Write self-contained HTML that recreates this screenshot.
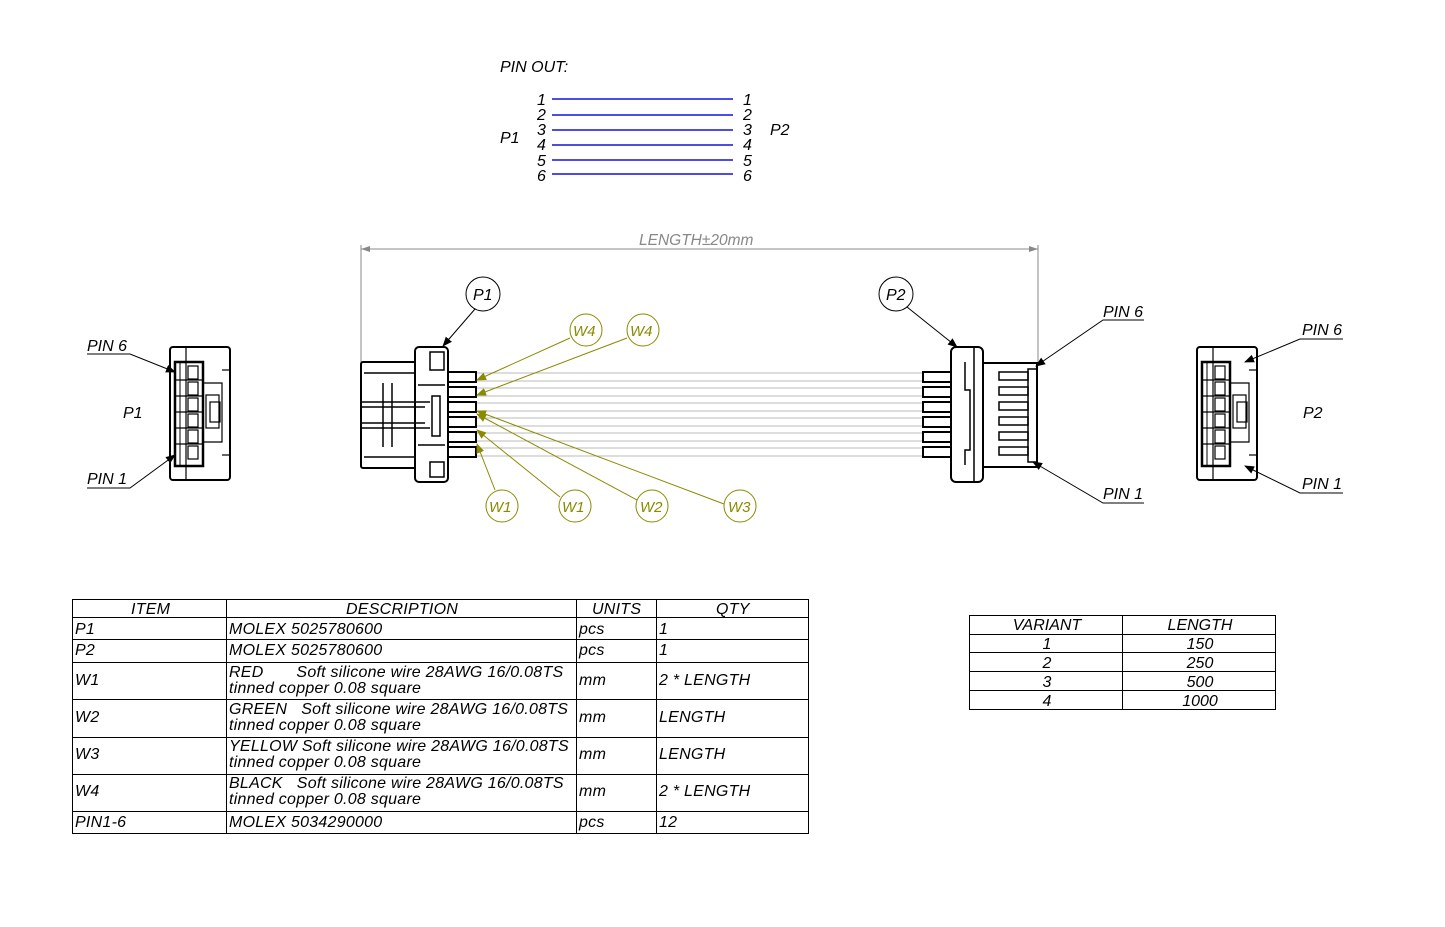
<!DOCTYPE html>
<html><head><meta charset="utf-8"><style>
html,body{margin:0;padding:0;background:#fff;}
svg{display:block;}
text{font-family:"Liberation Sans",sans-serif;font-style:italic;fill:#000;}
.t text{letter-spacing:0.25px;}
</style></head><body>
<svg width="1445" height="927" viewBox="0 0 1445 927" xmlns="http://www.w3.org/2000/svg">
<defs>
<marker id="ab" markerWidth="10" markerHeight="8" refX="9" refY="4" orient="auto" markerUnits="userSpaceOnUse"><path d="M0,0 L10,4 L0,8 z" fill="#000"/></marker>
<marker id="ay" markerWidth="10" markerHeight="8" refX="9" refY="4" orient="auto" markerUnits="userSpaceOnUse"><path d="M0,0 L10,4 L0,8 z" fill="#8a8a00"/></marker>
<marker id="ag" markerWidth="9" markerHeight="6" refX="9" refY="3" orient="auto-start-reverse" markerUnits="userSpaceOnUse"><path d="M9,3 L0,0 L0,6 z" fill="#888"/></marker>
</defs>

<!-- PIN OUT -->
<text x="500" y="72" font-size="16">PIN OUT:</text>
<text x="500" y="143" font-size="16">P1</text>
<text x="770" y="135" font-size="16">P2</text>
<g stroke="#1010e0" stroke-width="1.4">
<line x1="552" y1="99" x2="733" y2="99"/><line x1="552" y1="115" x2="733" y2="115"/>
<line x1="552" y1="130" x2="733" y2="130"/><line x1="552" y1="145" x2="733" y2="145"/>
<line x1="552" y1="160" x2="733" y2="160"/><line x1="552" y1="174" x2="733" y2="174"/>
</g>
<g font-size="16">
<text x="537" y="105">1</text><text x="537" y="120">2</text><text x="537" y="135">3</text><text x="537" y="150">4</text><text x="537" y="166">5</text><text x="537" y="181">6</text>
<text x="743" y="105">1</text><text x="743" y="120">2</text><text x="743" y="135">3</text><text x="743" y="150">4</text><text x="743" y="166">5</text><text x="743" y="181">6</text>
</g>

<!-- Dimension -->
<line x1="361" y1="245" x2="361" y2="362" stroke="#888" stroke-width="1"/>
<line x1="1038" y1="245" x2="1038" y2="362" stroke="#888" stroke-width="1"/>
<line x1="361" y1="249" x2="1038" y2="249" stroke="#888" stroke-width="1" marker-start="url(#ag)" marker-end="url(#ag)"/>
<text x="639" y="245" font-size="15.5" style="fill:#888">LENGTH±20mm</text>

<!-- wires gray -->
<g stroke="#bbb" stroke-width="1">
<line x1="476" y1="373" x2="922" y2="373"/><line x1="476" y1="381" x2="922" y2="381"/>
<line x1="476" y1="388" x2="922" y2="388"/><line x1="476" y1="396" x2="922" y2="396"/>
<line x1="476" y1="403" x2="922" y2="403"/><line x1="476" y1="411" x2="922" y2="411"/>
<line x1="476" y1="418" x2="922" y2="418"/><line x1="476" y1="426" x2="922" y2="426"/>
<line x1="476" y1="433" x2="922" y2="433"/><line x1="476" y1="441" x2="922" y2="441"/>
<line x1="476" y1="448" x2="922" y2="448"/><line x1="476" y1="456" x2="922" y2="456"/>
</g>

<!-- Left connector side view -->
<g fill="#fff" stroke="#000" stroke-width="2">
<rect x="361" y="362" width="56" height="106" rx="2"/>
<rect x="415" y="347" width="33" height="135" rx="4"/>
<rect x="448" y="372" width="28" height="10"/><rect x="448" y="387" width="28" height="10"/>
<rect x="448" y="402" width="28" height="10"/><rect x="448" y="417" width="28" height="10"/>
<rect x="448" y="432" width="28" height="10"/><rect x="448" y="447" width="28" height="10"/>
</g>
<g fill="none" stroke="#000" stroke-width="1.5">
<line x1="364" y1="373" x2="415" y2="373"/><line x1="364" y1="457" x2="415" y2="457"/>
<line x1="362" y1="402" x2="430" y2="402"/><line x1="362" y1="428" x2="430" y2="428"/>
<line x1="362" y1="407" x2="425" y2="407"/><line x1="362" y1="423" x2="425" y2="423"/>
<line x1="383" y1="383" x2="383" y2="447"/><line x1="392" y1="383" x2="392" y2="447"/>
<rect x="432" y="396" width="8" height="40"/>
<line x1="418" y1="385" x2="445" y2="385"/><line x1="418" y1="445" x2="445" y2="445"/>
<rect x="430" y="352" width="14" height="18"/><rect x="430" y="462" width="14" height="15"/>
</g>

<!-- Right connector side view -->
<g fill="#fff" stroke="#000" stroke-width="2">
<rect x="923" y="372" width="28" height="10"/><rect x="923" y="387" width="28" height="10"/>
<rect x="923" y="402" width="28" height="10"/><rect x="923" y="417" width="28" height="10"/>
<rect x="923" y="432" width="28" height="10"/><rect x="923" y="447" width="28" height="10"/>
<rect x="982" y="363" width="55" height="104"/>
<rect x="951" y="347" width="32" height="135" rx="5"/>
</g>
<g fill="none" stroke="#000" stroke-width="1.5">
<line x1="974" y1="348" x2="974" y2="481"/>
<polyline points="965,362 965,390 970,390 970,450 965,450 965,465"/>
<rect x="999" y="372" width="29" height="8"/><rect x="999" y="387" width="29" height="8"/>
<rect x="999" y="402" width="29" height="8"/><rect x="999" y="417" width="29" height="8"/>
<rect x="999" y="432" width="29" height="8"/><rect x="999" y="447" width="29" height="8"/>
<rect x="1028" y="369" width="9" height="93"/>
</g>

<!-- End views -->
<g id="ev" fill="none" stroke="#000">
<rect x="170" y="347" width="60" height="133" rx="3" stroke-width="2"/>
<line x1="186" y1="348" x2="186" y2="479" stroke-width="1.2"/>
<rect x="175" y="362" width="28" height="104" stroke-width="2.5"/>
<line x1="180" y1="363" x2="180" y2="465" stroke-width="1"/>
<g stroke-width="1.2">
<rect x="188" y="366" width="10" height="13"/><rect x="188" y="382" width="10" height="13"/>
<rect x="188" y="398" width="10" height="13"/><rect x="188" y="414" width="10" height="13"/>
<rect x="188" y="430" width="10" height="13"/><rect x="188" y="446" width="10" height="13"/>
<line x1="176" y1="380" x2="202" y2="380"/><line x1="176" y1="396" x2="202" y2="396"/>
<line x1="176" y1="412" x2="202" y2="412"/><line x1="176" y1="428" x2="202" y2="428"/>
<line x1="176" y1="444" x2="202" y2="444"/>
<polyline points="203,383 222,383 222,442 203,442"/>
<rect x="206" y="395" width="13" height="33"/>
<rect x="210" y="402" width="10" height="20"/>
<line x1="222" y1="370" x2="230" y2="370"/><line x1="222" y1="455" x2="230" y2="455"/>
</g>
</g>
<use href="#ev" transform="translate(1027,0)"/>

<!-- end view labels -->
<g font-size="16">
<text x="87" y="351">PIN 6</text><text x="87" y="484">PIN 1</text><text x="123" y="418">P1</text>
<text x="1302" y="335">PIN 6</text><text x="1302" y="489">PIN 1</text><text x="1303" y="418">P2</text>
<text x="1103" y="317">PIN 6</text><text x="1103" y="499">PIN 1</text>
</g>
<g stroke="#000" stroke-width="1" fill="none">
<polyline points="87,354 130,354 175,372" marker-end="url(#ab)"/>
<polyline points="87,488 130,488 175,455" marker-end="url(#ab)"/>
<polyline points="1343,339 1300,339 1245,362" marker-end="url(#ab)"/>
<polyline points="1343,493 1300,493 1245,466" marker-end="url(#ab)"/>
<polyline points="1144,320 1103,320 1036,366" marker-end="url(#ab)"/>
<polyline points="1144,503 1103,503 1033,462" marker-end="url(#ab)"/>
</g>

<!-- P balloons -->
<g fill="#fff" stroke="#000" stroke-width="1">
<circle cx="483" cy="294" r="17"/><circle cx="896" cy="294" r="17"/>
<line x1="475" y1="309" x2="443" y2="346" marker-end="url(#ab)"/>
<line x1="907" y1="307" x2="957" y2="347" marker-end="url(#ab)"/>
</g>
<text x="473" y="300" font-size="16">P1</text><text x="886" y="300" font-size="16">P2</text>

<!-- W balloons -->
<g stroke="#8a8a00" stroke-width="1" fill="none">
<line x1="570" y1="338" x2="477" y2="380" marker-end="url(#ay)"/>
<line x1="627" y1="338" x2="477" y2="395" marker-end="url(#ay)"/>
<line x1="495" y1="490" x2="477" y2="444" marker-end="url(#ay)"/>
<line x1="560" y1="497" x2="477" y2="430" marker-end="url(#ay)"/>
<line x1="637" y1="500" x2="477" y2="414" marker-end="url(#ay)"/>
<line x1="724" y1="504" x2="477" y2="411" marker-end="url(#ay)"/>
<circle cx="586" cy="330" r="16" fill="#fff"/><circle cx="643" cy="330" r="16" fill="#fff"/>
<circle cx="502" cy="506" r="16" fill="#fff"/><circle cx="575" cy="506" r="16" fill="#fff"/>
<circle cx="652" cy="506" r="16" fill="#fff"/><circle cx="740" cy="506" r="16" fill="#fff"/>
</g>
<g font-size="15">
<text x="573" y="336" style="fill:#8a8a00">W4</text><text x="630" y="336" style="fill:#8a8a00">W4</text>
<text x="489" y="512" style="fill:#8a8a00">W1</text><text x="562" y="512" style="fill:#8a8a00">W1</text>
<text x="640" y="512" style="fill:#8a8a00">W2</text><text x="728" y="512" style="fill:#8a8a00">W3</text>
</g>

<!-- BOM table -->
<g stroke="#000" stroke-width="1" fill="none">
<rect x="72.5" y="599.5" width="736" height="234"/>
<line x1="226.5" y1="599" x2="226.5" y2="834"/><line x1="576.5" y1="599" x2="576.5" y2="834"/><line x1="656.5" y1="599" x2="656.5" y2="834"/>
<line x1="72" y1="617.5" x2="809" y2="617.5"/><line x1="72" y1="639.5" x2="809" y2="639.5"/>
<line x1="72" y1="662.5" x2="809" y2="662.5"/><line x1="72" y1="699.5" x2="809" y2="699.5"/>
<line x1="72" y1="737.5" x2="809" y2="737.5"/><line x1="72" y1="774.5" x2="809" y2="774.5"/>
<line x1="72" y1="811.5" x2="809" y2="811.5"/>
</g>
<g font-size="16" class="t">
<text x="131" y="614">ITEM</text><text x="346" y="614">DESCRIPTION</text><text x="592" y="614">UNITS</text><text x="716" y="614">QTY</text>
<text x="75" y="634">P1</text><text x="229" y="634">MOLEX 5025780600</text><text x="579" y="634">pcs</text><text x="659" y="634">1</text>
<text x="75" y="655">P2</text><text x="229" y="655">MOLEX 5025780600</text><text x="579" y="655">pcs</text><text x="659" y="655">1</text>
<text x="75" y="685">W1</text><text x="229" y="677" xml:space="preserve">RED       Soft silicone wire 28AWG 16/0.08TS</text><text x="229" y="693">tinned copper 0.08 square</text><text x="579" y="685">mm</text><text x="659" y="685">2 * LENGTH</text>
<text x="75" y="722">W2</text><text x="229" y="714" xml:space="preserve">GREEN   Soft silicone wire 28AWG 16/0.08TS</text><text x="229" y="730">tinned copper 0.08 square</text><text x="579" y="722">mm</text><text x="659" y="722">LENGTH</text>
<text x="75" y="759">W3</text><text x="229" y="751">YELLOW Soft silicone wire 28AWG 16/0.08TS</text><text x="229" y="767">tinned copper 0.08 square</text><text x="579" y="759">mm</text><text x="659" y="759">LENGTH</text>
<text x="75" y="796">W4</text><text x="229" y="788" xml:space="preserve">BLACK   Soft silicone wire 28AWG 16/0.08TS</text><text x="229" y="804">tinned copper 0.08 square</text><text x="579" y="796">mm</text><text x="659" y="796">2 * LENGTH</text>
<text x="75" y="827">PIN1-6</text><text x="229" y="827">MOLEX 5034290000</text><text x="579" y="827">pcs</text><text x="659" y="827">12</text>
</g>

<!-- Variant table -->
<g stroke="#000" stroke-width="1" fill="none">
<rect x="969.5" y="615.5" width="306" height="94"/>
<line x1="1122.5" y1="615" x2="1122.5" y2="710"/>
<line x1="969" y1="634.5" x2="1276" y2="634.5"/><line x1="969" y1="652.5" x2="1276" y2="652.5"/>
<line x1="969" y1="671.5" x2="1276" y2="671.5"/><line x1="969" y1="690.5" x2="1276" y2="690.5"/>
</g>
<g font-size="16" text-anchor="middle">
<text x="1047" y="630">VARIANT</text><text x="1200" y="630">LENGTH</text>
<text x="1047" y="649">1</text><text x="1200" y="649">150</text>
<text x="1047" y="668">2</text><text x="1200" y="668">250</text>
<text x="1047" y="687">3</text><text x="1200" y="687">500</text>
<text x="1047" y="706">4</text><text x="1200" y="706">1000</text>
</g>
</svg>
</body></html>
